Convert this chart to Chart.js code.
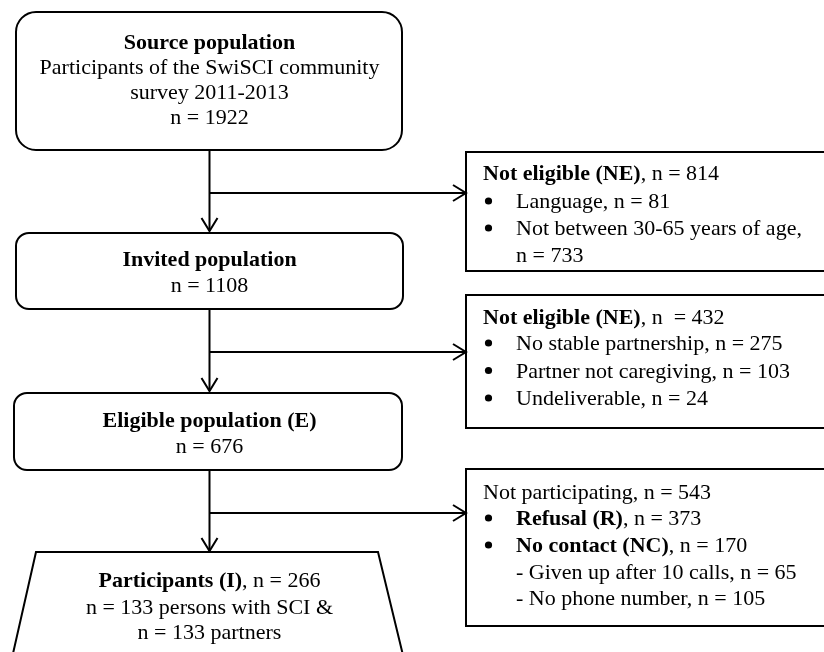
<!DOCTYPE html>
<html>
<head>
<meta charset="utf-8">
<script src="https://cdn.jsdelivr.net/npm/chart.js@4/dist/chart.umd.min.js"></script>
<style>
html,body{margin:0;padding:0;background:#fff;}
#wrap{width:824px;height:652px;}
</style>
</head>
<body>
<div id="wrap"><canvas id="c" width="824" height="652"></canvas></div>
<script>
// ---- data ----
const stageTitles = ['Source population', 'Invited population', 'Eligible population (E)', 'Participants (I)'];
const stageCounts = [1922, 1108, 676, 266];
const sourceDescription = ['Participants of the SwiSCI community', 'survey 2011-2013'];
const participantGroups = ['persons with SCI &', 'partners'];
const participantGroupCounts = [133, 133];

const exclusionTitles = ['Not eligible (NE)', 'Not eligible (NE)', 'Not participating'];
const exclusionTotals = [814, 432, 543];
const notEligible1Reasons = ['Language', 'Not between 30-65 years of age,'];
const notEligible1Counts = [81, 733];
const notEligible2Reasons = ['No stable partnership', 'Partner not caregiving', 'Undeliverable'];
const notEligible2Counts = [275, 103, 24];
const nonParticipationReasons = ['Refusal (R)', 'No contact (NC)'];
const nonParticipationCounts = [373, 170];
const noContactReasons = ['Given up after 10 calls', 'No phone number'];
const noContactCounts = [65, 105];

// ---- layout (drawing units = scale values) ----
const L = {
  spineX: 209.5,
  stageBoxes: [
    {x0:16, y0:12,  x1:402, y1:150, r:20},
    {x0:16, y0:233, x1:403, y1:309, r:13},
    {x0:14, y0:393, x1:402, y1:470, r:13}
  ],
  trap: {y0:552, xl0:36, xr0:378, y1:680, xl1:7, xr1:409},
  sideBoxes: [
    {x0:466, y0:152, x1:832, y1:271},
    {x0:466, y0:295, x1:832, y1:428},
    {x0:466, y0:469, x1:832, y1:626}
  ],
  branchY: [193, 352, 513],
  arrowTipY: [231, 391, 551]
};
const FONT = '"Liberation Serif", "Times New Roman", serif';
const FS = 22;

// connectors as line datasets
const connectorSets = [];
const stageBottoms = [150, 309, 470];
for (let i = 0; i < 3; i++) {
  connectorSets.push({type:'line', data:[{x:L.spineX,y:stageBottoms[i]},{x:L.spineX,y:L.arrowTipY[i]}],
    borderColor:'#000', borderWidth:2, pointRadius:0, showLine:true, arrowAt:'down'});
  connectorSets.push({type:'line', data:[{x:L.spineX,y:L.branchY[i]},{x:L.sideBoxes[i].x0,y:L.branchY[i]}],
    borderColor:'#000', borderWidth:2, pointRadius:0, showLine:true, arrowAt:'right'});
}

function font(b){ return (b?'bold ':'') + FS + 'px ' + FONT; }
function richWidth(ctx, segs){ let w=0; for(const s of segs){ctx.font=font(s.b); w+=ctx.measureText(s.t).width;} return w; }
function drawRich(ctx, segs, x, y, align){
  let cx = x;
  if (align==='center') cx = x - richWidth(ctx, segs)/2;
  ctx.textAlign='left'; ctx.textBaseline='alphabetic'; ctx.fillStyle='#000';
  for (const s of segs){ ctx.font=font(s.b); ctx.fillText(s.t, cx, y); cx += ctx.measureText(s.t).width; }
}

const flowPlugin = {
  id:'flow',
  afterDatasetsDraw(chart){
    const ctx = chart.ctx, xs = chart.scales.x, ys = chart.scales.y;
    const X = v => xs.getPixelForValue(v), Y = v => ys.getPixelForValue(v);
    ctx.save();
    ctx.strokeStyle='#000'; ctx.lineWidth=2; ctx.lineJoin='miter';
    // arrowheads
    chart.data.datasets.forEach(ds=>{
      const p = ds.data[ds.data.length-1];
      const px=X(p.x), py=Y(p.y);
      ctx.beginPath();
      if (ds.arrowAt==='down'){ ctx.moveTo(px-8,py-13); ctx.lineTo(px,py); ctx.lineTo(px+8,py-13); }
      else { ctx.moveTo(px-13,py-8); ctx.lineTo(px,py); ctx.lineTo(px-13,py+8); }
      ctx.stroke();
    });
    // rounded stage boxes
    L.stageBoxes.forEach(b=>{
      const x0=X(b.x0), y0=Y(b.y0), x1=X(b.x1), y1=Y(b.y1), r=b.r;
      ctx.beginPath(); ctx.roundRect(x0,y0,x1-x0,y1-y0,r); ctx.stroke();
    });
    // trapezoid
    const t=L.trap;
    ctx.beginPath(); ctx.moveTo(X(t.xl1),Y(t.y1)); ctx.lineTo(X(t.xl0),Y(t.y0)); ctx.lineTo(X(t.xr0),Y(t.y0)); ctx.lineTo(X(t.xr1),Y(t.y1)); ctx.stroke();
    // side boxes
    L.sideBoxes.forEach(b=>{ ctx.strokeRect(X(b.x0),Y(b.y0),X(b.x1)-X(b.x0),Y(b.y1)-Y(b.y0)); });

    const cx = X(L.spineX);
    // stage texts
    drawRich(ctx,[{t:stageTitles[0],b:true}],cx,Y(49),'center');
    drawRich(ctx,[{t:sourceDescription[0]}],cx,Y(74),'center');
    drawRich(ctx,[{t:sourceDescription[1]}],cx,Y(99),'center');
    drawRich(ctx,[{t:'n = '+stageCounts[0]}],cx,Y(124),'center');
    drawRich(ctx,[{t:stageTitles[1],b:true}],cx,Y(266),'center');
    drawRich(ctx,[{t:'n = '+stageCounts[1]}],cx,Y(292),'center');
    drawRich(ctx,[{t:stageTitles[2],b:true}],cx,Y(427),'center');
    drawRich(ctx,[{t:'n = '+stageCounts[2]}],cx,Y(453),'center');
    drawRich(ctx,[{t:stageTitles[3],b:true},{t:', n = '+stageCounts[3]}],cx,Y(587),'center');
    drawRich(ctx,[{t:'n = '+participantGroupCounts[0]+' '+participantGroups[0]}],cx,Y(614),'center');
    drawRich(ctx,[{t:'n = '+participantGroupCounts[1]+' '+participantGroups[1]}],cx,Y(639),'center');

    // side box texts
    const tx = X(483), bx = X(488.5), ix = X(516);
    function bullet(y){ ctx.beginPath(); ctx.arc(bx, Y(y)-7, 3.6, 0, Math.PI*2); ctx.fill(); }
    // box 1
    drawRich(ctx,[{t:exclusionTitles[0],b:true},{t:', n = '+exclusionTotals[0]}],tx,Y(180),'left');
    bullet(208); drawRich(ctx,[{t:notEligible1Reasons[0]+', n = '+notEligible1Counts[0]}],ix,Y(208),'left');
    bullet(235); drawRich(ctx,[{t:notEligible1Reasons[1]}],ix,Y(235),'left');
    drawRich(ctx,[{t:'n = '+notEligible1Counts[1]}],ix,Y(262),'left');
    // box 2
    drawRich(ctx,[{t:exclusionTitles[1],b:true},{t:', n  = '+exclusionTotals[1]}],tx,Y(324),'left');
    for (let i=0;i<3;i++){ const y=350+i*27.5; bullet(y); drawRich(ctx,[{t:notEligible2Reasons[i]+', n = '+notEligible2Counts[i]}],ix,Y(y),'left'); }
    // box 3
    drawRich(ctx,[{t:exclusionTitles[2]+', n = '+exclusionTotals[2]}],tx,Y(499),'left');
    for (let i=0;i<2;i++){ const y=525+i*27; bullet(y); drawRich(ctx,[{t:nonParticipationReasons[i],b:true},{t:', n = '+nonParticipationCounts[i]}],ix,Y(y),'left'); }
    for (let i=0;i<2;i++){ const y=579+i*26; drawRich(ctx,[{t:'- '+noContactReasons[i]+', n = '+noContactCounts[i]}],ix,Y(y),'left'); }
    ctx.restore();
  }
};

new Chart(document.getElementById('c'), {
  type:'scatter',
  data:{ datasets: connectorSets },
  options:{
    responsive:false, animation:false, devicePixelRatio:1, events:[],
    layout:{padding:0},
    plugins:{legend:{display:false}, tooltip:{enabled:false}},
    scales:{
      x:{type:'linear', min:0, max:824, display:false},
      y:{type:'linear', min:0, max:652, reverse:true, display:false}
    }
  },
  plugins:[flowPlugin]
});
</script>
</body>
</html>
